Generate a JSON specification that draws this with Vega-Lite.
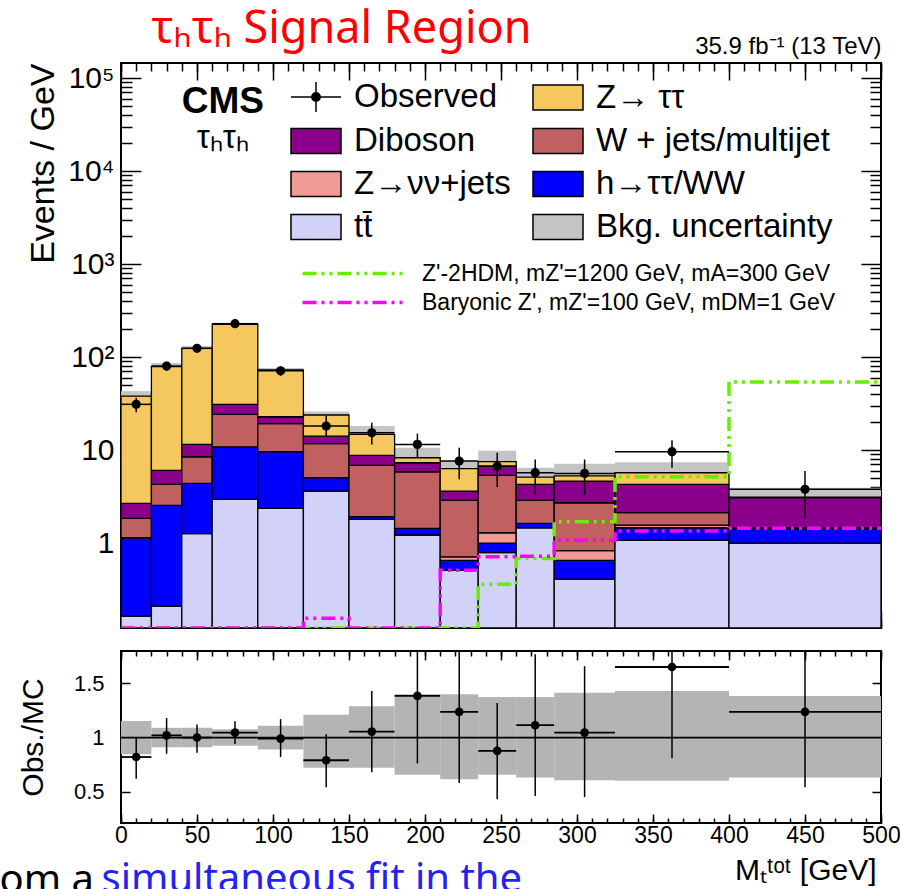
{
  "$schema": "https://vega.github.io/schema/vega-lite/v6.json",
  "background": "white",
  "padding": {"left": -2, "top": 5, "right": 0, "bottom": -12},
  "spacing": 19,
  "resolve": {"scale": {"fill": "independent", "stroke": "independent"}, "legend": {"fill": "independent", "stroke": "independent"}},
  "datasets": {
    "bins": [
      {"lo": 0, "hi": 20, "xc": 10, "tt̄": 0.164, "h→ττ/WW": 0.976, "Z→νν+jets": 0, "W + jets/multijet": 0.70, "Diboson": 0.83, "Z→ ττ": 35.3, "obs": 31, "obs_lo": 25.4, "obs_hi": 36.5, "unc_lo": 33, "unc_hi": 43, "ratio": 0.82, "ratio_lo": 0.62, "ratio_hi": 1.0, "band_lo": 0.846, "band_hi": 1.154},
      {"lo": 20, "hi": 40, "xc": 30, "tt̄": 0.21, "h→ττ/WW": 2.33, "Z→νν+jets": 0, "W + jets/multijet": 1.74, "Diboson": 1.77, "Z→ ττ": 72.6, "obs": 80, "obs_lo": 71, "obs_hi": 89, "unc_lo": 71, "unc_hi": 86, "ratio": 1.02, "ratio_lo": 0.85, "ratio_hi": 1.18, "band_lo": 0.91, "band_hi": 1.09},
      {"lo": 40, "hi": 60, "xc": 50, "tt̄": 1.26, "h→ττ/WW": 3.13, "Z→νν+jets": 0, "W + jets/multijet": 4.08, "Diboson": 3.03, "Z→ ττ": 112.5, "obs": 124, "obs_lo": 113, "obs_hi": 135, "unc_lo": 117, "unc_hi": 131, "ratio": 1.0, "ratio_lo": 0.86, "ratio_hi": 1.12, "band_lo": 0.91, "band_hi": 1.09},
      {"lo": 60, "hi": 90, "xc": 75, "tt̄": 2.95, "h→ττ/WW": 7.85, "Z→νν+jets": 0, "W + jets/multijet": 13.4, "Diboson": 6.8, "Z→ ττ": 194, "obs": 228, "obs_lo": 213, "obs_hi": 243, "unc_lo": 217, "unc_hi": 233, "ratio": 1.045, "ratio_lo": 0.94, "ratio_hi": 1.15, "band_lo": 0.923, "band_hi": 1.077},
      {"lo": 90, "hi": 120, "xc": 105, "tt̄": 2.36, "h→ττ/WW": 7.24, "Z→νν+jets": 0, "W + jets/multijet": 9.6, "Diboson": 3.6, "Z→ ττ": 49.7, "obs": 71, "obs_lo": 63, "obs_hi": 79, "unc_lo": 69, "unc_hi": 76, "ratio": 0.99, "ratio_lo": 0.82, "ratio_hi": 1.17, "band_lo": 0.89, "band_hi": 1.11},
      {"lo": 120, "hi": 150, "xc": 135, "tt̄": 3.62, "h→ττ/WW": 1.42, "Z→νν+jets": 0, "W + jets/multijet": 6.66, "Diboson": 2.4, "Z→ ττ": 9.7, "obs": 18.1, "obs_lo": 14.1, "obs_hi": 23.2, "unc_lo": 21.5, "unc_hi": 26, "ratio": 0.79, "ratio_lo": 0.54, "ratio_hi": 1.03, "band_lo": 0.72, "band_hi": 1.21},
      {"lo": 150, "hi": 180, "xc": 165, "tt̄": 1.8, "h→ττ/WW": 0.12, "Z→νν+jets": 0, "W + jets/multijet": 4.93, "Diboson": 1.92, "Z→ ττ": 5.93, "obs": 15.3, "obs_lo": 11.5, "obs_hi": 19.7, "unc_lo": 11.5, "unc_hi": 18.1, "ratio": 1.055, "ratio_lo": 0.68, "ratio_hi": 1.43, "band_lo": 0.72, "band_hi": 1.29},
      {"lo": 180, "hi": 210, "xc": 195, "tt̄": 1.22, "h→ττ/WW": 0.22, "Z→νν+jets": 0, "W + jets/multijet": 4.4, "Diboson": 1.46, "Z→ ττ": 0.96, "obs": 11.5, "obs_lo": 8.25, "obs_hi": 15, "unc_lo": 5.9, "unc_hi": 10.6, "ratio": 1.385, "ratio_lo": 0.76, "ratio_hi": 1.9, "band_lo": 0.655, "band_hi": 1.40},
      {"lo": 210, "hi": 235, "xc": 222.5, "tt̄": 0.51, "h→ττ/WW": 0.14, "Z→νν+jets": 0.06, "W + jets/multijet": 2.17, "Diboson": 0.74, "Z→ ττ": 2.68, "obs": 7.6, "obs_lo": 4.84, "obs_hi": 10.6, "unc_lo": 5.0, "unc_hi": 7.6, "ratio": 1.237, "ratio_lo": 0.58, "ratio_hi": 1.9, "band_lo": 0.615, "band_hi": 1.40},
      {"lo": 235, "hi": 260, "xc": 247.5, "tt̄": 0.79, "h→ττ/WW": 0.21, "Z→νν+jets": 0.29, "W + jets/multijet": 4.05, "Diboson": 1.36, "Z→ ττ": 0.8, "obs": 6.7, "obs_lo": 4.0, "obs_hi": 9.35, "unc_lo": 5.3, "unc_hi": 9.8, "ratio": 0.877, "ratio_lo": 0.43, "ratio_hi": 1.32, "band_lo": 0.655, "band_hi": 1.375},
      {"lo": 260, "hi": 285, "xc": 272.5, "tt̄": 1.46, "h→ττ/WW": 0.17, "Z→νν+jets": 0, "W + jets/multijet": 1.25, "Diboson": 1.4, "Z→ ττ": 0.82, "obs": 5.7, "obs_lo": 3.28, "obs_hi": 7.9, "unc_lo": 3.8, "unc_hi": 6.45, "ratio": 1.114, "ratio_lo": 0.46, "ratio_hi": 1.77, "band_lo": 0.63, "band_hi": 1.375},
      {"lo": 285, "hi": 325, "xc": 305, "tt̄": 0.41, "h→ττ/WW": 0.24, "Z→νν+jets": 0.18, "W + jets/multijet": 1.88, "Diboson": 1.93, "Z→ ττ": 0.62, "obs": 5.6, "obs_lo": 3.28, "obs_hi": 7.9, "unc_lo": 3.4, "unc_hi": 7.1, "ratio": 1.046, "ratio_lo": 0.45, "ratio_hi": 1.66, "band_lo": 0.606, "band_hi": 1.415},
      {"lo": 325, "hi": 400, "xc": 362.5, "tt̄": 1.07, "h→ττ/WW": 0.39, "Z→νν+jets": 0.1, "W + jets/multijet": 0.56, "Diboson": 2.16, "Z→ ττ": 1.42, "obs": 9.6, "obs_lo": 6.45, "obs_hi": 12.7, "unc_lo": 3.4, "unc_hi": 7.4, "ratio": 1.652, "ratio_lo": 0.81, "ratio_hi": 2.0, "band_lo": 0.6, "band_hi": 1.43},
      {"lo": 400, "hi": 500, "xc": 450, "tt̄": 1.0, "h→ττ/WW": 0.4, "Z→νν+jets": 0, "W + jets/multijet": 0.05, "Diboson": 1.62, "Z→ ττ": 0.05, "obs": 3.78, "obs_lo": 1.84, "obs_hi": 5.95, "unc_lo": 2.4, "unc_hi": 3.93, "ratio": 1.237, "ratio_lo": 0.54, "ratio_hi": 1.9, "band_lo": 0.63, "band_hi": 1.385}
    ],
    "signals": [
      {"model": "Z'-2HDM, mZ'=1200 GeV, mA=300 GeV", "edge": 0, "value": 0.1},
      {"model": "Z'-2HDM, mZ'=1200 GeV, mA=300 GeV", "edge": 20, "value": 0.1},
      {"model": "Z'-2HDM, mZ'=1200 GeV, mA=300 GeV", "edge": 40, "value": 0.1},
      {"model": "Z'-2HDM, mZ'=1200 GeV, mA=300 GeV", "edge": 60, "value": 0.1},
      {"model": "Z'-2HDM, mZ'=1200 GeV, mA=300 GeV", "edge": 90, "value": 0.1},
      {"model": "Z'-2HDM, mZ'=1200 GeV, mA=300 GeV", "edge": 120, "value": 0.1},
      {"model": "Z'-2HDM, mZ'=1200 GeV, mA=300 GeV", "edge": 150, "value": 0.1},
      {"model": "Z'-2HDM, mZ'=1200 GeV, mA=300 GeV", "edge": 180, "value": 0.1},
      {"model": "Z'-2HDM, mZ'=1200 GeV, mA=300 GeV", "edge": 210, "value": 0.1},
      {"model": "Z'-2HDM, mZ'=1200 GeV, mA=300 GeV", "edge": 235, "value": 0.36},
      {"model": "Z'-2HDM, mZ'=1200 GeV, mA=300 GeV", "edge": 260, "value": 0.68},
      {"model": "Z'-2HDM, mZ'=1200 GeV, mA=300 GeV", "edge": 285, "value": 1.69},
      {"model": "Z'-2HDM, mZ'=1200 GeV, mA=300 GeV", "edge": 325, "value": 5.17},
      {"model": "Z'-2HDM, mZ'=1200 GeV, mA=300 GeV", "edge": 400, "value": 54},
      {"model": "Z'-2HDM, mZ'=1200 GeV, mA=300 GeV", "edge": 500, "value": 54},
      {"model": "Baryonic Z', mZ'=100 GeV, mDM=1 GeV", "edge": 0, "value": 0.1},
      {"model": "Baryonic Z', mZ'=100 GeV, mDM=1 GeV", "edge": 20, "value": 0.1},
      {"model": "Baryonic Z', mZ'=100 GeV, mDM=1 GeV", "edge": 40, "value": 0.1},
      {"model": "Baryonic Z', mZ'=100 GeV, mDM=1 GeV", "edge": 60, "value": 0.1},
      {"model": "Baryonic Z', mZ'=100 GeV, mDM=1 GeV", "edge": 90, "value": 0.1},
      {"model": "Baryonic Z', mZ'=100 GeV, mDM=1 GeV", "edge": 120, "value": 0.155},
      {"model": "Baryonic Z', mZ'=100 GeV, mDM=1 GeV", "edge": 150, "value": 0.1},
      {"model": "Baryonic Z', mZ'=100 GeV, mDM=1 GeV", "edge": 180, "value": 0.1},
      {"model": "Baryonic Z', mZ'=100 GeV, mDM=1 GeV", "edge": 210, "value": 0.51},
      {"model": "Baryonic Z', mZ'=100 GeV, mDM=1 GeV", "edge": 235, "value": 0.71},
      {"model": "Baryonic Z', mZ'=100 GeV, mDM=1 GeV", "edge": 260, "value": 0.72},
      {"model": "Baryonic Z', mZ'=100 GeV, mDM=1 GeV", "edge": 285, "value": 1.07},
      {"model": "Baryonic Z', mZ'=100 GeV, mDM=1 GeV", "edge": 325, "value": 1.35},
      {"model": "Baryonic Z', mZ'=100 GeV, mDM=1 GeV", "edge": 400, "value": 1.44},
      {"model": "Baryonic Z', mZ'=100 GeV, mDM=1 GeV", "edge": 500, "value": 1.44}
    ]
  },
  "vconcat": [
    {
      "width": 760,
      "height": 565,
      "data": {"name": "bins"},
      "resolve": {"axis": {"x": "independent", "y": "independent"}},
      "layer": [
        {
          "mark": {"type": "rect", "clip": true},
          "encoding": {
            "x": {"field": "lo", "type": "quantitative", "scale": {"domain": [0, 500], "nice": false, "zero": false},
                  "axis": {"orient": "bottom", "values": [0,50,100,150,200,250,300,350,400,450,500], "labels": false, "tickSize": -17, "title": null}},
            "x2": {"field": "hi"},
            "y": {"field": "unc_hi", "type": "quantitative", "scale": {"type": "log", "domain": [0.122, 145000], "clamp": true, "nice": false},
                  "axis": {"orient": "left", "values": [1,10,100,1000,10000,100000], "tickSize": -20, "labelFontSize": 30, "labelPadding": 27,
                           "labelExpr": "datum.value == 1 ? '1' : datum.value == 10 ? '10' : datum.value == 100 ? '10²' : datum.value == 1000 ? '10³' : datum.value == 10000 ? '10⁴' : '10⁵'",
                           "title": "Events / GeV", "titleFontSize": 34, "titleX": -78, "titleY": 0, "titleAlign": "right", "titleAngle": -90, "titleBaseline": "middle"}},
            "y2": {"field": "unc_lo"},
            "fill": {"datum": "Bkg. uncertainty", "type": "nominal",
                     "scale": {"domain": ["Observed", "Diboson", "Z→νν+jets", "tt̄", "Z→ ττ", "W + jets/multijet", "h→ττ/WW", "Bkg. uncertainty"],
                               "range": ["#000000", "#8b008b", "#f09a96", "#d2d2f8", "#f4c75f", "#c06060", "#0000ff", "#c4c4c4"]}}
          }
        },
        {
          "transform": [
            {"fold": ["tt̄", "h→ττ/WW", "Z→νν+jets", "W + jets/multijet", "Diboson", "Z→ ττ"], "as": ["process", "v"]},
            {"stack": "v", "groupby": ["lo"], "as": ["s0", "s1"]}
          ],
          "mark": {"type": "rect", "stroke": "black", "strokeWidth": 1.3, "clip": true},
          "encoding": {
            "x": {"field": "lo", "type": "quantitative", "scale": {"domain": [0, 500], "nice": false, "zero": false},
                  "axis": {"orient": "top", "values": [0,50,100,150,200,250,300,350,400,450,500], "labels": false, "tickSize": -17,
                           "title": "τₕτₕ Signal Region", "titleColor": "#ff0000", "titleFont": "Noto Sans", "titleFontSize": 45, "titleFontWeight": "normal",
                           "titleX": 30, "titleY": -21, "titleAlign": "left", "titleBaseline": "alphabetic", "titleAngle": 0}},
            "x2": {"field": "hi"},
            "y": {"field": "s1", "type": "quantitative", "scale": {"type": "log", "domain": [0.122, 145000], "clamp": true, "nice": false},
                  "axis": {"orient": "right", "values": [1,10,100,1000,10000,100000], "labels": false, "tickSize": -20, "title": null}},
            "y2": {"field": "s0"},
            "fill": {"field": "process", "type": "nominal",
                     "scale": {"domain": ["Observed", "Diboson", "Z→νν+jets", "tt̄", "Z→ ττ", "W + jets/multijet", "h→ττ/WW", "Bkg. uncertainty"],
                               "range": ["#000000", "#8b008b", "#f09a96", "#d2d2f8", "#f4c75f", "#c06060", "#0000ff", "#c4c4c4"]},
                     "legend": {"orient": "none", "legendX": 169, "legendY": 8, "direction": "vertical", "columns": 2, "columnPadding": 19, "rowPadding": -9,
                                "title": null, "labelFontSize": 33, "labelFont": "Liberation Sans", "labelColor": "black", "labelOffset": 12, "labelLimit": 600,
                                "symbolSize": 2500, "symbolType": "M-1,-0.5H1V0.5H-1Z", "symbolStrokeColor": "black", "symbolStrokeWidth": 1.5, "symbolOpacity": 1,
                                "encode": {"symbols": {"update": {
                                  "shape": {"signal": "datum.value === 'Observed' ? 'M-1,0H1M0,-0.6V0.6M-0.17,0A0.17,0.17,0,1,1,0.17,0A0.17,0.17,0,1,1,-0.17,0Z' : 'M-1,-0.5H1V0.5H-1Z'"},
                                  "stroke": {"value": "black"}, "strokeWidth": {"value": 1.5}, "opacity": {"value": 1}}}}}}
          }
        },
        {
          "data": {"name": "signals"},
          "mark": {"type": "line", "interpolate": "step-after", "strokeWidth": 3.5, "strokeDash": [14, 5, 3, 5, 3, 5], "clip": true},
          "encoding": {
            "x": {"field": "edge", "type": "quantitative", "scale": {"domain": [0, 500], "nice": false, "zero": false},
                  "axis": {"orient": "bottom", "values": [0,10,20,30,40,50,60,70,80,90,100,110,120,130,140,150,160,170,180,190,200,210,220,230,240,250,260,270,280,290,300,310,320,330,340,350,360,370,380,390,400,410,420,430,440,450,460,470,480,490,500], "labels": false, "tickSize": -8, "title": null}},
            "y": {"field": "value", "type": "quantitative", "scale": {"type": "log", "domain": [0.122, 145000], "clamp": true, "nice": false},
                  "axis": {"orient": "left", "values": [0.2,0.3,0.4,0.5,0.6,0.7,0.8,0.9,2,3,4,5,6,7,8,9,20,30,40,50,60,70,80,90,200,300,400,500,600,700,800,900,2000,3000,4000,5000,6000,7000,8000,9000,20000,30000,40000,50000,60000,70000,80000,90000], "labels": false, "tickSize": -11, "title": null}},
            "stroke": {"field": "model", "type": "nominal",
                       "scale": {"domain": ["Z'-2HDM, mZ'=1200 GeV, mA=300 GeV", "Baryonic Z', mZ'=100 GeV, mDM=1 GeV"], "range": ["#66ee00", "#ff00ff"]},
                       "legend": {"orient": "none", "legendX": 217, "legendY": 196, "direction": "vertical", "title": null, "symbolType": "M-4,0H4", "symbolSize": 625,
                                  "symbolStrokeWidth": 3.5, "symbolDash": [14, 5, 3, 5, 3, 5], "labelFontSize": 23, "labelFont": "Liberation Sans", "labelColor": "black",
                                  "labelOffset": 55, "rowPadding": 2, "labelLimit": 700}}
          }
        },
        {
          "mark": {"type": "rule", "color": "black", "strokeWidth": 1.5, "clip": true},
          "encoding": {
            "x": {"field": "xc", "type": "quantitative", "scale": {"domain": [0, 500], "nice": false, "zero": false},
                  "axis": {"orient": "top", "values": [0,10,20,30,40,50,60,70,80,90,100,110,120,130,140,150,160,170,180,190,200,210,220,230,240,250,260,270,280,290,300,310,320,330,340,350,360,370,380,390,400,410,420,430,440,450,460,470,480,490,500], "labels": false, "tickSize": -8,
                           "title": "35.9 fb⁻¹ (13 TeV)", "titleFont": "Liberation Sans", "titleFontSize": 24, "titleFontWeight": "normal", "titleX": 760, "titleY": -10, "titleAlign": "right", "titleBaseline": "alphabetic", "titleAngle": 0}},
            "y": {"field": "obs_lo", "type": "quantitative", "scale": {"type": "log", "domain": [0.122, 145000], "clamp": true, "nice": false},
                  "axis": {"orient": "right", "values": [0.2,0.3,0.4,0.5,0.6,0.7,0.8,0.9,2,3,4,5,6,7,8,9,20,30,40,50,60,70,80,90,200,300,400,500,600,700,800,900,2000,3000,4000,5000,6000,7000,8000,9000,20000,30000,40000,50000,60000,70000,80000,90000], "labels": false, "tickSize": -11, "title": null}},
            "y2": {"field": "obs_hi"}
          }
        },
        {
          "mark": {"type": "rule", "color": "black", "strokeWidth": 1.5, "clip": true},
          "encoding": {
            "x": {"field": "lo", "type": "quantitative", "axis": null},
            "x2": {"field": "hi"},
            "y": {"field": "obs", "type": "quantitative", "axis": null}
          }
        },
        {
          "mark": {"type": "point", "filled": true, "size": 85, "opacity": 1},
          "encoding": {
            "x": {"field": "xc", "type": "quantitative", "axis": null},
            "y": {"field": "obs", "type": "quantitative", "axis": null},
            "fill": {"datum": "Observed", "type": "nominal",
                     "scale": {"domain": ["Observed", "Diboson", "Z→νν+jets", "tt̄", "Z→ ττ", "W + jets/multijet", "h→ττ/WW", "Bkg. uncertainty"],
                               "range": ["#000000", "#8b008b", "#f09a96", "#d2d2f8", "#f4c75f", "#c06060", "#0000ff", "#c4c4c4"]}}
          }
        },
        {
          "data": {"values": [{}]},
          "mark": {"type": "text", "font": "Liberation Sans", "fontWeight": "bold", "fontSize": 37, "align": "center", "baseline": "middle", "color": "black"},
          "encoding": {
            "x": {"datum": 67, "type": "quantitative", "axis": null},
            "y": {"datum": 55200, "type": "quantitative", "axis": null},
            "text": {"value": "CMS"}
          }
        },
        {
          "data": {"values": [{}]},
          "mark": {"type": "text", "font": "Liberation Sans", "fontSize": 33, "align": "center", "baseline": "middle", "color": "black"},
          "encoding": {
            "x": {"datum": 67, "type": "quantitative", "axis": null},
            "y": {"datum": 22600, "type": "quantitative", "axis": null},
            "text": {"value": "τₕτₕ"}
          }
        }
      ]
    },
    {
      "width": 760,
      "height": 172,
      "data": {"name": "bins"},
      "resolve": {"axis": {"x": "independent", "y": "independent"}},
      "layer": [
        {
          "mark": {"type": "rect", "fill": "#b4b4b4", "clip": true},
          "encoding": {
            "x": {"field": "lo", "type": "quantitative", "scale": {"domain": [0, 500], "nice": false, "zero": false},
                  "axis": {"orient": "bottom", "values": [0,50,100,150,200,250,300,350,400,450,500], "format": "d", "tickSize": -9, "labelFontSize": 23, "labelPadding": 10, "labelFlush": false,
                           "title": "Mₜᵗᵒᵗ [GeV]", "titleFontSize": 30, "titleX": 755, "titleY": 56, "titleAlign": "right", "titleBaseline": "alphabetic", "titleAngle": 0}},
            "x2": {"field": "hi"},
            "y": {"field": "band_hi", "type": "quantitative", "scale": {"domain": [0.21, 1.8], "clamp": true, "nice": false, "zero": false},
                  "axis": {"orient": "left", "values": [0.5, 1, 1.5], "format": "~g", "tickSize": -9, "labelFontSize": 22, "labelPadding": 26,
                           "title": "Obs./MC", "titleFontSize": 30, "titleX": -88, "titleY": 86, "titleAlign": "center", "titleAngle": -90, "titleBaseline": "middle"}},
            "y2": {"field": "band_lo"}
          }
        },
        {
          "data": {"values": [{}]},
          "mark": {"type": "rule", "color": "black", "strokeWidth": 1.8},
          "encoding": {
            "y": {"datum": 1, "type": "quantitative", "scale": {"domain": [0.21, 1.8], "clamp": true, "nice": false, "zero": false},
                  "axis": {"orient": "right", "values": [0.5, 1, 1.5], "labels": false, "tickSize": -9, "title": null}}
          }
        },
        {
          "mark": {"type": "rule", "color": "black", "strokeWidth": 1.5, "clip": true},
          "encoding": {
            "x": {"field": "xc", "type": "quantitative", "scale": {"domain": [0, 500], "nice": false, "zero": false},
                  "axis": {"orient": "top", "values": [0,50,100,150,200,250,300,350,400,450,500], "labels": false, "tickSize": -9, "title": null}},
            "y": {"field": "ratio_lo", "type": "quantitative", "axis": null},
            "y2": {"field": "ratio_hi"}
          }
        },
        {
          "mark": {"type": "rule", "color": "black", "strokeWidth": 1.8, "clip": true},
          "encoding": {
            "x": {"field": "lo", "type": "quantitative",
                  "axis": {"orient": "bottom", "values": [0,10,20,30,40,50,60,70,80,90,100,110,120,130,140,150,160,170,180,190,200,210,220,230,240,250,260,270,280,290,300,310,320,330,340,350,360,370,380,390,400,410,420,430,440,450,460,470,480,490,500], "labels": false, "tickSize": -5,
                           "title": "om a", "titleFont": "Noto Sans", "titleFontSize": 40, "titleFontWeight": "normal", "titleColor": "black", "titleX": -122, "titleY": 69, "titleAlign": "left", "titleBaseline": "alphabetic", "titleAngle": 0}},
            "x2": {"field": "hi"},
            "y": {"field": "ratio", "type": "quantitative", "axis": null}
          }
        },
        {
          "mark": {"type": "point", "filled": true, "size": 75, "color": "black", "opacity": 1, "clip": true},
          "encoding": {
            "x": {"field": "xc", "type": "quantitative",
                  "axis": {"orient": "top", "values": [0,10,20,30,40,50,60,70,80,90,100,110,120,130,140,150,160,170,180,190,200,210,220,230,240,250,260,270,280,290,300,310,320,330,340,350,360,370,380,390,400,410,420,430,440,450,460,470,480,490,500], "labels": false, "tickSize": -5,
                           "title": "simultaneous fit in the", "titleFont": "Noto Sans", "titleFontSize": 40, "titleFontWeight": "normal", "titleColor": "#2323f0", "titleX": -20, "titleY": 240, "titleAlign": "left", "titleBaseline": "alphabetic", "titleAngle": 0}},
            "y": {"field": "ratio", "type": "quantitative", "axis": null}
          }
        }
      ]
    }
  ],
  "config": {
    "font": "Liberation Sans",
    "view": {"stroke": "black", "strokeWidth": 2},
    "axis": {"domain": false, "grid": false, "tickColor": "black", "tickWidth": 1.5, "labelColor": "black", "titleColor": "black", "labelFont": "Liberation Sans", "titleFont": "Liberation Sans", "titleFontWeight": "normal"},
    "legend": {"labelFont": "Liberation Sans", "labelColor": "black"}
  }
}
